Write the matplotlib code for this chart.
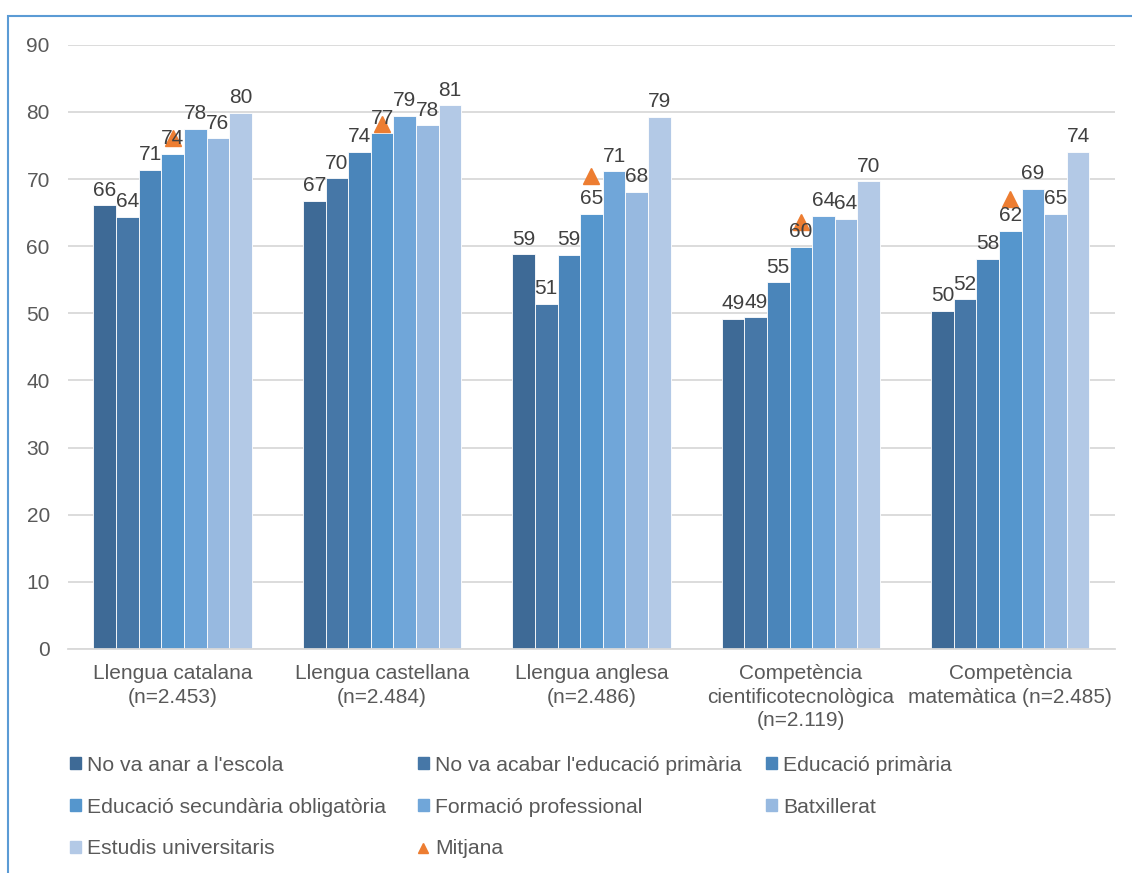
import matplotlib.pyplot as plt
import numpy as np
from matplotlib.patches import Rectangle
from matplotlib.lines import Line2D

plt.rcParams['font.family'] = ['Liberation Sans', 'DejaVu Sans']

categories = ['Llengua catalana\n(n=2.453)',
              'Llengua castellana\n(n=2.484)',
              'Llengua anglesa\n(n=2.486)',
              'Competència\ncientificotecnològica\n(n=2.119)',
              'Competència\nmatemàtica (n=2.485)']
series_names = ["No va anar a l'escola",
                "No va acabar l'educació primària",
                'Educació primària',
                'Educació secundària obligatòria',
                'Formació professional',
                'Batxillerat',
                'Estudis universitaris']
no_escola = [66.1, 66.8, 58.8, 49.2, 50.4]
no_primaria = [64.4, 70.1, 51.4, 49.4, 52.1]
primaria = [71.4, 74.1, 58.7, 54.6, 58.1]
eso = [73.8, 76.8, 64.8, 59.9, 62.3]
fp = [77.5, 79.4, 71.2, 64.5, 68.6]
batxillerat = [76.1, 78.0, 68.1, 64.1, 64.8]
universitaris = [79.9, 81.0, 79.3, 69.7, 74.1]
mitjana = [76.1, 78.2, 70.5, 63.6, 67.0]

series = [no_escola, no_primaria, primaria, eso, fp, batxillerat, universitaris]
colors = ['#3E6A96', '#4677A7', '#4A85BA', '#5596CD', '#70A6D9', '#97B9E0', '#B3C9E6']

fs = 15
fig = plt.figure(figsize=(11.32, 8.73), dpi=100)
ax = fig.add_axes([0.060, 0.2566, 0.925, 0.692])

x = np.arange(len(categories))
w = 0.108
txt = '#404040'
for i, (vals, c) in enumerate(zip(series, colors)):
    pos = x + (i - 3) * w
    bars = ax.bar(pos, vals, w, color=c, edgecolor='white', linewidth=0.6,
                  label=series_names[i], zorder=2)
    for b, v in zip(bars, vals):
        ax.annotate(f'{v:.0f}', (b.get_x() + b.get_width() / 2, v),
                    xytext=(0, 4), textcoords='offset points',
                    ha='center', va='bottom', fontsize=fs, color=txt, zorder=4)

ax.plot(x, mitjana, linestyle='none', marker='^', markersize=11,
        color='#ED7D31', zorder=3, label='Mitjana')

ax.set_ylim(0, 90)
ax.set_xlim(-0.5, 4.5)
ax.set_yticks(range(0, 91, 10))
ax.set_xticks(x)
ax.set_xticklabels(categories, fontsize=fs, color='#595959', linespacing=1.3)
ax.tick_params(axis='y', labelsize=fs, labelcolor='#595959', length=0, pad=13)
ax.tick_params(axis='x', length=0, pad=11)
ax.grid(axis='y', color='#D9D9D9', linewidth=1.3, zorder=0)
ax.set_axisbelow(True)
for s in ['top', 'right', 'left']:
    ax.spines[s].set_visible(False)
ax.spines['bottom'].set_color('#D9D9D9')
ax.spines['bottom'].set_linewidth(1.3)

handles = [Rectangle((0, 0), 1, 1, color=c) for c in colors]
handles.append(Line2D([], [], linestyle='none', marker='^', markersize=7.5, color='#ED7D31'))
labels = series_names + ['Mitjana']

# three equal-width legend columns, filled row by row
col_x = [70, 418, 766]
for k in range(3):
    idx = list(range(k, len(labels), 3))
    leg = fig.legend([handles[i] for i in idx], [labels[i] for i in idx],
                     loc='upper left', bbox_to_anchor=(col_x[k] / 1132, 0.1343),
                     frameon=False, fontsize=15.2, handlelength=0.5, handleheight=0.5,
                     handletextpad=0.3, labelspacing=1.08, borderpad=0, borderaxespad=0)
    for t in leg.get_texts():
        t.set_color('#595959')

fig.patches.append(Rectangle((8 / 1132, -0.1), 1.2, 1 - 16 / 873 + 0.1,
                             transform=fig.transFigure, fill=False,
                             edgecolor='#5B9BD5', linewidth=1.5))

fig.savefig('out.png', dpi=100)
